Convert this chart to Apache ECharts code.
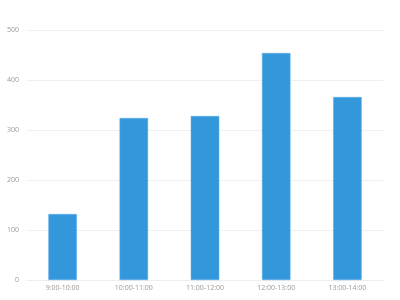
<!DOCTYPE html>
<html><head><meta charset="utf-8">
<script src="https://cdn.jsdelivr.net/npm/echarts@6/dist/echarts.min.js"></script>
<style>html,body{margin:0;padding:0;background:#fff}#c{width:400px;height:300px}</style>
</head><body><div id="c"></div>
<script>
var categories = ['9:00-10:00','10:00-11:00','11:00-12:00','12:00-13:00','13:00-14:00'];
var values = [132, 324, 328, 454, 366];
var chart = echarts.init(document.getElementById('c'), null, {renderer:'canvas'});
chart.setOption({
  animation:false,
  grid:{left:27,right:17,top:30,bottom:20,containLabel:false},
  xAxis:{type:'category',data:categories,
    axisTick:{show:false},
    axisLine:{lineStyle:{color:'#eeeeee'}},
    axisLabel:{color:'#999',fontSize:7,fontFamily:'Open Sans',margin:4}},
  yAxis:{type:'value',min:0,max:500,interval:100,
    axisLine:{show:false},axisTick:{show:false},
    splitLine:{lineStyle:{color:'#f0f0f0'}},
    axisLabel:{color:'#999',fontSize:7,fontFamily:'Open Sans',margin:8}},
  series:[{type:'bar',data:values,barWidth:'40%',
    itemStyle:{color:'#3398DB',borderColor:'#5cadea',borderWidth:0.5}}]
});
</script></body></html>
